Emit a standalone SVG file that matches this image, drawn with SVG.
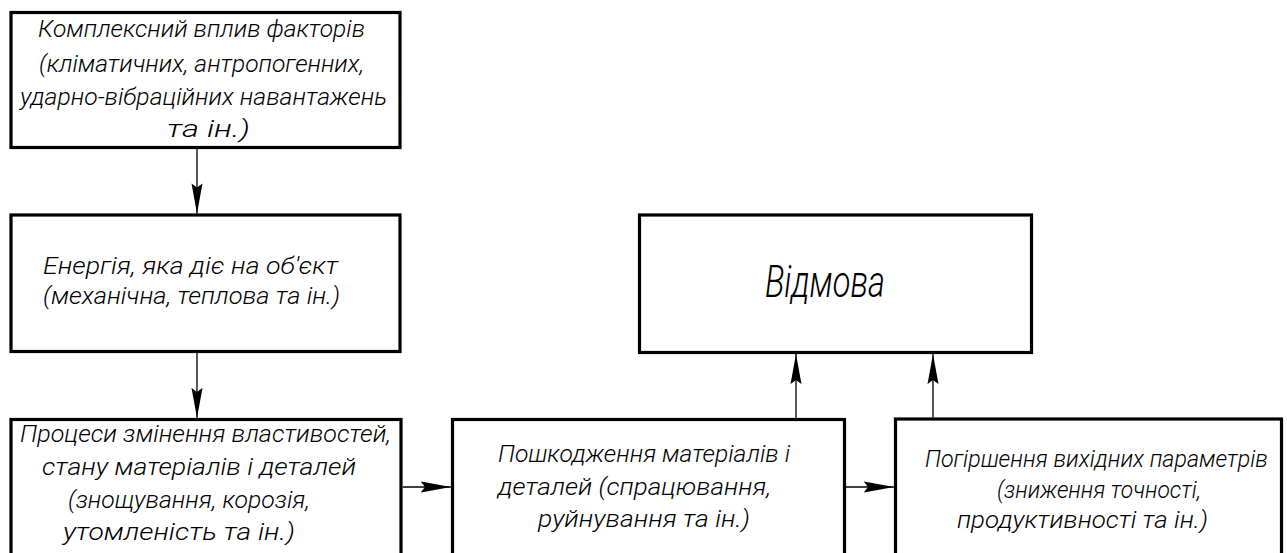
<svg xmlns="http://www.w3.org/2000/svg" width="1287" height="553" viewBox="0 0 1287 553">
<style>
.box{fill:#fff;stroke:#000;stroke-width:3.2}
.t{font-family:"Roboto","Liberation Sans",sans-serif;font-weight:300;font-style:italic;font-size:23px;fill:#000}
.big{font-size:44px}
.c{fill:none;stroke:#000;stroke-width:1.3}
</style>
<defs>
<marker id="ah" markerUnits="userSpaceOnUse" markerWidth="31" markerHeight="12" refX="30" refY="6" orient="auto">
<path d="M0,0.5 L30,6 L0,11.5 L4,6 Z" fill="#000"/>
</marker>
</defs>
<rect width="1287" height="553" fill="#fff"/>
<g id="n1">
<rect class="box" x="11" y="12.5" width="389" height="135"/>
<text class="t" x="38" y="37" textLength="327" lengthAdjust="spacingAndGlyphs">Комплексний вплив факторів</text>
<text class="t" x="39" y="72" textLength="325" lengthAdjust="spacingAndGlyphs">(кліматичних, антропогенних,</text>
<text class="t" x="20" y="105" textLength="367" lengthAdjust="spacingAndGlyphs">ударно-вібраційних навантажень</text>
<text class="t" x="167" y="137" textLength="83" lengthAdjust="spacingAndGlyphs">та ін.)</text>
</g>
<g id="n2">
<rect class="box" x="11" y="215" width="389" height="136.5"/>
<text class="t" x="43" y="274" textLength="295" lengthAdjust="spacingAndGlyphs">Енергія, яка діє на об'єкт</text>
<text class="t" x="43" y="304" textLength="297" lengthAdjust="spacingAndGlyphs">(механічна, теплова та ін.)</text>
</g>
<g id="n3">
<rect class="box" x="11" y="419.5" width="390" height="150"/>
<text class="t" x="20" y="442" textLength="371" lengthAdjust="spacingAndGlyphs">Процеси змінення властивостей,</text>
<text class="t" x="42" y="475" textLength="314" lengthAdjust="spacingAndGlyphs">стану матеріалів і деталей</text>
<text class="t" x="68" y="508" textLength="242" lengthAdjust="spacingAndGlyphs">(знощування, корозія,</text>
<text class="t" x="63" y="540" textLength="232" lengthAdjust="spacingAndGlyphs">утомленість та ін.)</text>
</g>
<g id="n4">
<rect class="box" x="452.5" y="419.5" width="392" height="150"/>
<text class="t" x="498" y="462" textLength="292" lengthAdjust="spacingAndGlyphs">Пошкодження матеріалів і</text>
<text class="t" x="498" y="495" textLength="273" lengthAdjust="spacingAndGlyphs">деталей (спрацювання,</text>
<text class="t" x="538" y="527" textLength="212" lengthAdjust="spacingAndGlyphs">руйнування та ін.)</text>
</g>
<g id="n5">
<rect class="box" x="895.5" y="419" width="386" height="150"/>
<text class="t" x="925" y="467" textLength="343" lengthAdjust="spacingAndGlyphs">Погіршення вихідних параметрів</text>
<text class="t" x="997" y="498" textLength="204" lengthAdjust="spacingAndGlyphs">(зниження точності,</text>
<text class="t" x="957" y="528" textLength="251" lengthAdjust="spacingAndGlyphs">продуктивності та ін.)</text>
</g>
<g id="n6">
<rect class="box" x="639.5" y="215" width="392" height="137.5"/>
<text class="t big" x="765" y="297" textLength="120" lengthAdjust="spacingAndGlyphs">Відмова</text>
</g>
<g id="connectors">
<line class="c" x1="197" y1="149" x2="197" y2="213.4" marker-end="url(#ah)"/>
<line class="c" x1="197" y1="353" x2="197" y2="417.9" marker-end="url(#ah)"/>
<line class="c" x1="402.6" y1="487" x2="450.9" y2="487" marker-end="url(#ah)"/>
<line class="c" x1="846" y1="487" x2="893.9" y2="487" marker-end="url(#ah)"/>
<line class="c" x1="796" y1="418" x2="796" y2="354.1" marker-end="url(#ah)"/>
<line class="c" x1="933" y1="417.4" x2="933" y2="354.1" marker-end="url(#ah)"/>
</g>
</svg>
